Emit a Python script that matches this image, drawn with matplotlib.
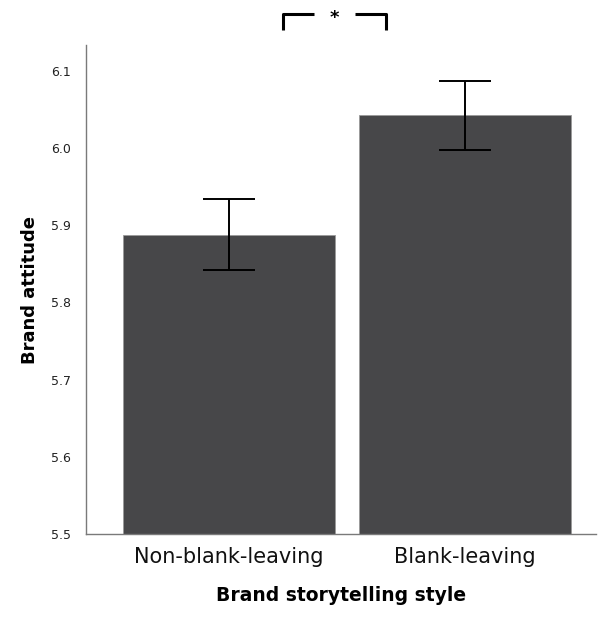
import numpy as np
import matplotlib
matplotlib.use("Agg")
import matplotlib.pyplot as plt

categories = ["Non-blank-leaving", "Blank-leaving"]
means = [5.887, 6.042]
err_low = [5.842, 5.997]
err_high = [5.934, 6.087]
yticks = [5.5, 5.6, 5.7, 5.8, 5.9, 6.0, 6.1]


def main():
    fig = plt.figure(figsize=(6.0, 6.17), dpi=100)
    ax = fig.add_axes([0.143, 0.1345, 0.85, 0.7925])

    x = np.arange(len(categories))
    means_a = np.array(means)
    yerr = np.array([means_a - np.array(err_low), np.array(err_high) - means_a])

    ax.bar(x, means_a - 5.5, bottom=5.5, width=0.9, color="#474749",
           edgecolor="#9a9a9a", linewidth=0.6, zorder=2)
    ax.errorbar(x, means_a, yerr=yerr, fmt="none", ecolor="black",
                elinewidth=1.4, capsize=18.5, capthick=1.4, zorder=3)

    ax.set_ylim(5.5, 6.133)
    ax.set_xlim(-0.607, 1.555)
    ax.set_yticks(yticks)
    ax.set_yticklabels([f"{t:.1f}" for t in yticks], fontsize=9, color="#222222")
    ax.set_xticks(x)
    ax.set_xticklabels(categories, fontsize=15, color="#111111")
    ax.tick_params(axis="y", length=0, pad=11)
    ax.tick_params(axis="x", length=0, pad=9)

    for s in ["top", "right"]:
        ax.spines[s].set_visible(False)
    for s in ["left", "bottom"]:
        ax.spines[s].set_color("#7a7a7a")
        ax.spines[s].set_linewidth(1.0)

    ax.set_ylabel("Brand attitude", fontsize=13, fontweight="bold", labelpad=8)
    ax.set_xlabel("Brand storytelling style", fontsize=13.5, fontweight="bold", labelpad=14)

    # significance bracket above the plot
    trans = ax.get_xaxis_transform()
    xl, xr = 0.23, 0.665
    y0, y1 = 1.03, 1.064
    ax.plot([xl, xl, xl + 0.13], [y0, y1, y1], color="black", lw=2.2,
            transform=trans, clip_on=False, solid_capstyle="butt")
    ax.plot([xr - 0.13, xr, xr], [y1, y1, y0], color="black", lw=2.2,
            transform=trans, clip_on=False, solid_capstyle="butt")
    ax.text((xl + xr) / 2, y1 - 0.008, "*", transform=trans, ha="center",
            va="center", fontsize=13, fontweight="bold")

    fig.savefig("out.png", dpi=100)


if __name__ == "__main__":
    main()
